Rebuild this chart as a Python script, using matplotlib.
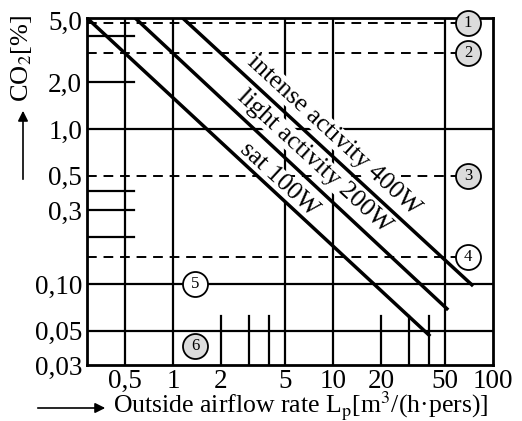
import numpy as np
import matplotlib.pyplot as plt

plt.rcParams['font.family'] = ['Liberation Serif', 'DejaVu Serif']
plt.rcParams['mathtext.fontset'] = 'stix'

# axes: outside airflow rate [m3/(h.pers)] vs CO2 [%], both log
x_ticks = [0.5, 1, 2, 5, 10, 20, 50, 100]
x_ticklabels = ['0,5', '1', '2', '5', '10', '20', '50', '100']
y_ticks = [0.03, 0.05, 0.1, 0.3, 0.5, 1.0, 2.0, 5.0]
y_ticklabels = ['0,03', '0,05', '0,10', '0,3', '0,5', '1,0', '2,0', '5,0']

# activity lines, end points
activity_names = ['sat 100W', 'light activity 200W', 'intense activity 400W']
activity_x = [[0.29, 40.7], [0.58, 52.7], [1.15, 75.5]]
activity_y = [[5.2, 0.046], [5.2, 0.068], [5.2, 0.097]]
label_x = [4.6, 7.66, 10.1]
label_y = [0.47, 0.62, 0.915]

# dashed limit levels with numbered circles
limit_values = [4.8, 3.1, 0.5, 0.15]
limit_ids = ['1', '2', '3', '4']
limit_gray = [True, True, True, False]

# grid
grid_x = [0.5, 1, 5, 10, 50]
grid_y = [1.0, 0.1, 0.05]
short_y = [4.0, 2.0, 0.4, 0.3, 0.2]
short_x = [2, 3, 4, 20, 30, 40]

W, H = 522, 421
fig = plt.figure(figsize=(W / 100, H / 100), dpi=100)
ax = fig.add_axes([87 / W, 1 - 365 / H, 406 / W, 347 / H])
ax.set_xscale('log')
ax.set_yscale('log')
xmin, xmax = 0.29, 100.5
ymin, ymax = 0.03, 5.2
ax.set_xlim(xmin, xmax)
ax.set_ylim(ymin, ymax)

ax.set_xticks(x_ticks)
ax.set_xticklabels(x_ticklabels)
ax.set_yticks(y_ticks)
ax.set_yticklabels(y_ticklabels)
ax.minorticks_off()
ax.tick_params(length=0, labelsize=19.5)
ax.tick_params(axis='x', pad=3)
ax.tick_params(axis='y', pad=3.5)
for s in ax.spines.values():
    s.set_linewidth(2)

lw_grid = 1.6
for v in grid_x:
    ax.plot([v, v], [ymin, ymax], color='k', lw=lw_grid, zorder=1)
for v in grid_y:
    ax.plot([xmin, xmax], [v, v], color='k', lw=lw_grid, zorder=1)
for v in short_y:
    ax.plot([xmin, 0.57], [v, v], color='k', lw=lw_grid, zorder=1)
for v in short_x:
    ax.plot([v, v], [ymin, 0.062], color='k', lw=lw_grid, zorder=1)

circ_x = 70
for v in limit_values:
    ax.plot([xmin, circ_x], [v, v], color='k', lw=1.4, ls=(0, (5, 3.5)), zorder=1)

for xs, ys in zip(activity_x, activity_y):
    ax.plot(xs, ys, color='k', lw=2.5, solid_capstyle='butt', zorder=4)

for name, tx, ty in zip(activity_names, label_x, label_y):
    ax.text(tx, ty, name, rotation=-42.5, rotation_mode='anchor', ha='center', va='center',
            fontsize=18.5, zorder=3,
            bbox=dict(fc='white', ec='none', pad=0.2))

def circle(x, y, txt, gray):
    ax.plot([x], [y], 'o', ms=18, mfc='#dcdcdc' if gray else 'white', mec='k', mew=1.3,
            zorder=5, clip_on=False)
    ax.text(x, y, txt, ha='center', va='center', fontsize=12, zorder=6)

for v, t, g in zip(limit_values, limit_ids, limit_gray):
    circle(circ_x, v, t, g)
circle(1.38, 0.1, '5', False)
circle(1.38, 0.04, '6', True)

# axis titles with arrows
fig.text(113 / W, 1 - 413 / H, 'Outside airflow rate L$_\\mathrm{p}$[m$^3$/(h·pers)]',
         ha='left', va='baseline', fontsize=18.5)
ax.annotate('', xy=(108, H - 408), xytext=(35, H - 408), xycoords='figure pixels',
            textcoords='figure pixels',
            arrowprops=dict(arrowstyle='-|>', lw=1.2, color='k', mutation_scale=15))
fig.text(22 / W, 1 - 59 / H, 'CO$_2$[%]', rotation=90, ha='center', va='center', fontsize=19)
ax.annotate('', xy=(23, H - 108), xytext=(23, H - 182), xycoords='figure pixels',
            textcoords='figure pixels',
            arrowprops=dict(arrowstyle='-|>', lw=1.2, color='k', mutation_scale=15))

fig.savefig('out.png', dpi=100)
